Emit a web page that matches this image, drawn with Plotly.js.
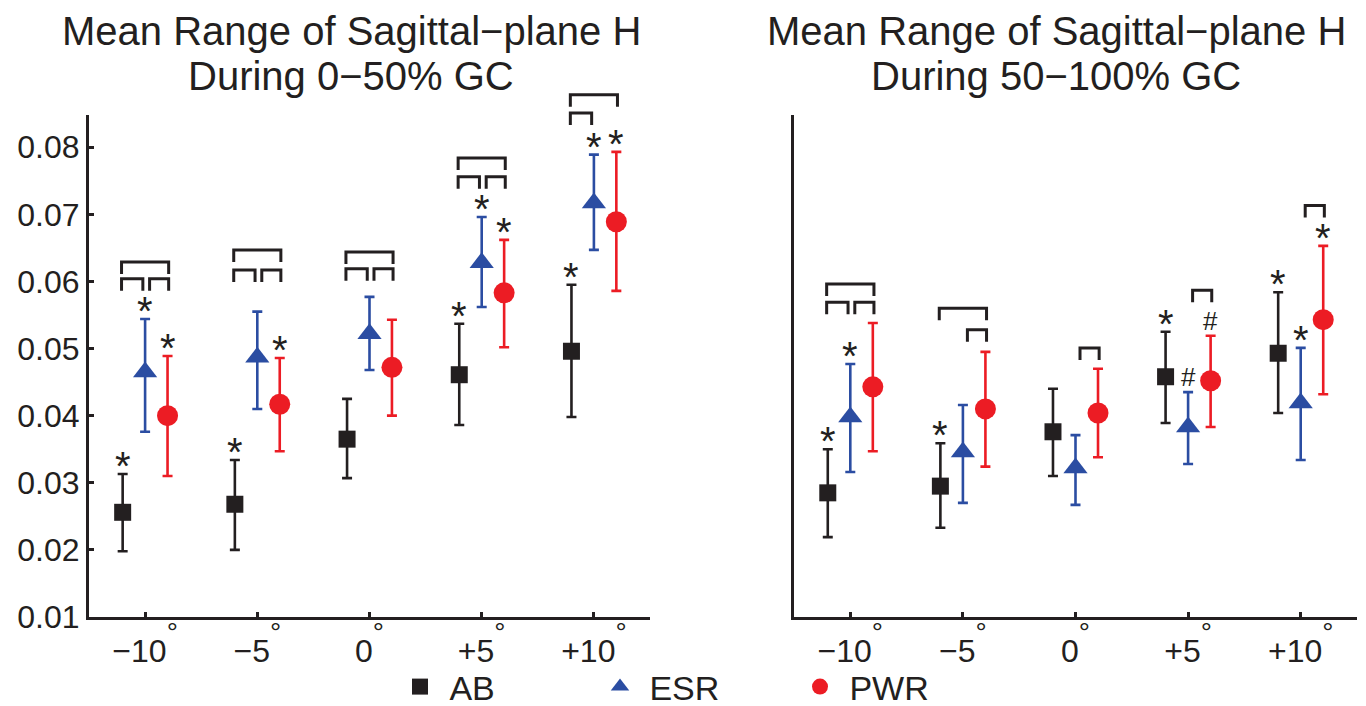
<!DOCTYPE html>
<html>
<head>
<meta charset="utf-8">
<script src="https://cdn.plot.ly/plotly-3.0.1.min.js"></script>
<style>html,body{margin:0;padding:0;background:#fff;}#chart{width:1366px;height:706px;}</style>
</head>
<body>
<div id="chart"></div>
<script>
// ---------- DATA ----------
const categories = [1, 2, 3, 4, 5];
const tickNames = ['−10', '−5', '0', '+5', '+10'];
const seriesNames = ['AB', 'ESR', 'PWR'];

// Left panel: 0-50% GC  (mean, upper end of error bar, lower end of error bar)
const leftAB_mean  = [0.0256, 0.0268, 0.0365, 0.0461, 0.0496];
const leftAB_hi    = [0.0313, 0.0334, 0.0425, 0.0537, 0.0595];
const leftAB_lo    = [0.0198, 0.0200, 0.0307, 0.0386, 0.0398];
const leftESR_mean = [0.0465, 0.0487, 0.0522, 0.0628, 0.0717];
const leftESR_hi   = [0.0544, 0.0555, 0.0577, 0.0696, 0.0789];
const leftESR_lo   = [0.0376, 0.0410, 0.0468, 0.0562, 0.0647];
const leftPWR_mean = [0.0400, 0.0417, 0.0472, 0.0583, 0.0689];
const leftPWR_hi   = [0.0489, 0.0486, 0.0543, 0.0662, 0.0793];
const leftPWR_lo   = [0.0310, 0.0347, 0.0400, 0.0502, 0.0586];

// Right panel: 50-100% GC
const rightAB_mean  = [0.0285, 0.0295, 0.0376, 0.0458, 0.0493];
const rightAB_hi    = [0.0350, 0.0359, 0.0440, 0.0525, 0.0584];
const rightAB_lo    = [0.0219, 0.0233, 0.0310, 0.0389, 0.0404];
const rightESR_mean = [0.0398, 0.0346, 0.0322, 0.0383, 0.0419];
const rightESR_hi   = [0.0477, 0.0416, 0.0371, 0.0435, 0.0501];
const rightESR_lo   = [0.0316, 0.0270, 0.0267, 0.0328, 0.0334];
const rightPWR_mean = [0.0443, 0.0410, 0.0404, 0.0452, 0.0543];
const rightPWR_hi   = [0.0538, 0.0495, 0.0470, 0.0519, 0.0653];
const rightPWR_lo   = [0.0347, 0.0324, 0.0338, 0.0383, 0.0432];

// Significance marks above each error bar
const leftAB_marks   = ['*', '*', '', '*', '*'];
const leftESR_marks  = ['*', '', '', '*', '*'];
const leftPWR_marks  = ['*', '*', '', '*', '*'];
const rightAB_marks  = ['*', '*', '', '*', '*'];
const rightESR_marks = ['*', '', '', '#', '*'];
const rightPWR_marks = ['', '', '', '#', '*'];

// Brackets: [category, fromSeries, toSeries, level]
const leftBrackets = [
  [1, 0, 1, 0.0604], [1, 1, 2, 0.0604], [1, 0, 2, 0.0629],
  [2, 0, 1, 0.0617], [2, 1, 2, 0.0617], [2, 0, 2, 0.0647],
  [3, 0, 1, 0.0619], [3, 1, 2, 0.0619], [3, 0, 2, 0.0644],
  [4, 0, 1, 0.0756], [4, 1, 2, 0.0756], [4, 0, 2, 0.0784],
  [5, 0, 1, 0.0851], [5, 0, 2, 0.0878]
];
const rightBrackets = [
  [1, 0, 1, 0.0569], [1, 1, 2, 0.0569], [1, 0, 2, 0.0596],
  [2, 1, 2, 0.0528], [2, 0, 2, 0.0560],
  [3, 1, 2, 0.0501],
  [4, 1, 2, 0.0587],
  [5, 1, 2, 0.0713]
];

// ---------- STYLE ----------
const FONT = '"Liberation Sans", Arial, Helvetica, sans-serif';
const TXT = '#231f20';
const colors = ['#231f20', '#2b4da2', '#ec1c24'];
const symbols = ['square', 'triangle-up', 'circle'];
const sizes = [17, 21, 21];
const offsets = [-0.2, 0, 0.2];
const W = 1366, H = 706;
const YR = [0.01, 0.0848];
const yDom = [(H - 617) / H, (H - 115) / H];
const xDoms = [[89 / W, 650 / W], [794 / W, 1357 / W]];
const XR = [0.5, 5.5];
const tickLabels = tickNames.map(t => t + '<span style="font-size:28px;baseline-shift:20px">°</span>');

function xp(panel, xv) { const d = xDoms[panel]; return d[0] + (xv - XR[0]) / (XR[1] - XR[0]) * (d[1] - d[0]); }
function yp(v) { return yDom[0] + (v - YR[0]) / (YR[1] - YR[0]) * (yDom[1] - yDom[0]); }

const panels = [
  { means: [leftAB_mean, leftESR_mean, leftPWR_mean], hi: [leftAB_hi, leftESR_hi, leftPWR_hi], lo: [leftAB_lo, leftESR_lo, leftPWR_lo],
    marks: [leftAB_marks, leftESR_marks, leftPWR_marks], brackets: leftBrackets, xa: 'x', ya: 'y' },
  { means: [rightAB_mean, rightESR_mean, rightPWR_mean], hi: [rightAB_hi, rightESR_hi, rightPWR_hi], lo: [rightAB_lo, rightESR_lo, rightPWR_lo],
    marks: [rightAB_marks, rightESR_marks, rightPWR_marks], brackets: rightBrackets, xa: 'x2', ya: 'y2' }
];

const traces = [];
const annotations = [];
const shapes = [];

panels.forEach((p, pi) => {
  for (let s = 0; s < 3; s++) {
    const xs = categories.map(c => c + offsets[s]);
    traces.push({
      type: 'scatter', mode: 'markers', name: '\u00a0' + seriesNames[s],
      x: xs, y: p.means[s], xaxis: p.xa, yaxis: p.ya,
      showlegend: pi === 0, legendgroup: seriesNames[s], cliponaxis: false,
      marker: { symbol: symbols[s], size: sizes[s], color: colors[s], line: { width: 0 } },
      error_y: { type: 'data', symmetric: false,
        array: p.hi[s].map((h, i) => h - p.means[s][i]),
        arrayminus: p.means[s].map((m, i) => m - p.lo[s][i]),
        color: colors[s], thickness: 2.6, width: 5 }
    });
    p.marks[s].forEach((mk, i) => {
      if (!mk) return;
      annotations.push({
        xref: 'paper', yref: 'paper', x: xp(pi, xs[i]), y: yp(p.hi[s][i]),
        xanchor: 'center', yanchor: 'bottom', yshift: mk === '*' ? -16 : -2, showarrow: false,
        text: mk, font: { family: FONT, size: mk === '*' ? 40 : 26, color: TXT }
      });
    });
  }
  p.brackets.forEach(b => {
    const c = b[0];
    const xa0 = xp(pi, c + offsets[b[1]] + (b[1] === 1 ? 0.04 : -0.01));
    const xa1 = xp(pi, c + offsets[b[2]] + (b[2] === 1 ? -0.02 : 0.01));
    const yTop = yp(b[3]);
    const yLeg = yTop - 12 / H;
    shapes.push({
      type: 'path', xref: 'paper', yref: 'paper',
      path: `M ${xa0} ${yLeg} L ${xa0} ${yTop} L ${xa1} ${yTop} L ${xa1} ${yLeg}`,
      line: { color: TXT, width: 3 }, layer: 'above'
    });
  });
});

// Titles (one annotation per line)
const titleLines = [
  ['Mean Range of Sagittal−plane H', 'During 0−50% GC', 351],
  ['Mean Range of Sagittal−plane H', 'During 50−100% GC', 1056]
];
titleLines.forEach(t => {
  annotations.push({ xref: 'paper', yref: 'paper', x: t[2] / W, y: 1 - 31 / H, xanchor: 'center', yanchor: 'middle',
    showarrow: false, text: t[0], font: { family: FONT, size: 40, color: TXT } });
  annotations.push({ xref: 'paper', yref: 'paper', x: t[2] / W, y: 1 - 76 / H, xanchor: 'center', yanchor: 'middle',
    showarrow: false, text: t[1], font: { family: FONT, size: 40, color: TXT } });
});

const xCommon = {
  range: XR, tickmode: 'array', tickvals: categories, ticktext: tickLabels,
  showline: true, linecolor: TXT, linewidth: 3, mirror: false, zeroline: false, showgrid: false,
  ticks: 'inside', ticklen: 5, tickwidth: 3, tickcolor: TXT, ticklabelstandoff: 4,
  tickfont: { family: FONT, size: 32, color: TXT }, fixedrange: true
};
const yCommon = {
  range: YR, domain: yDom, tickmode: 'array',
  tickvals: [0.01, 0.02, 0.03, 0.04, 0.05, 0.06, 0.07, 0.08],
  showline: true, linecolor: TXT, linewidth: 3, zeroline: false, showgrid: false,
  ticks: 'inside', ticklen: 5, tickwidth: 3, tickcolor: TXT,
  tickfont: { family: FONT, size: 32, color: TXT }, fixedrange: true
};

const layout = {
  width: W, height: H,
  margin: { l: 0, r: 0, t: 0, b: 0, autoexpand: false },
  paper_bgcolor: '#ffffff', plot_bgcolor: 'rgba(0,0,0,0)',
  font: { family: FONT, color: TXT },
  xaxis: Object.assign({}, xCommon, { domain: xDoms[0], anchor: 'y' }),
  yaxis: Object.assign({}, yCommon, { anchor: 'x', tickformat: '.2f', ticklabelstandoff: 0 }),
  xaxis2: Object.assign({}, xCommon, { domain: xDoms[1], anchor: 'y2' }),
  yaxis2: Object.assign({}, yCommon, { anchor: 'x2', showticklabels: false, ticks: '' }),
  showlegend: true,
  legend: {
    orientation: 'h', x: 400 / W, xanchor: 'left', y: 19 / H, yanchor: 'middle',
    font: { family: FONT, size: 34, color: TXT }, bgcolor: 'rgba(0,0,0,0)',
    entrywidth: 155, entrywidthmode: 'pixels', itemclick: false, itemdoubleclick: false
  },
  annotations: annotations,
  shapes: shapes
};

Plotly.newPlot('chart', traces, layout, { displayModeBar: false, staticPlot: true });
</script>
</body>
</html>
